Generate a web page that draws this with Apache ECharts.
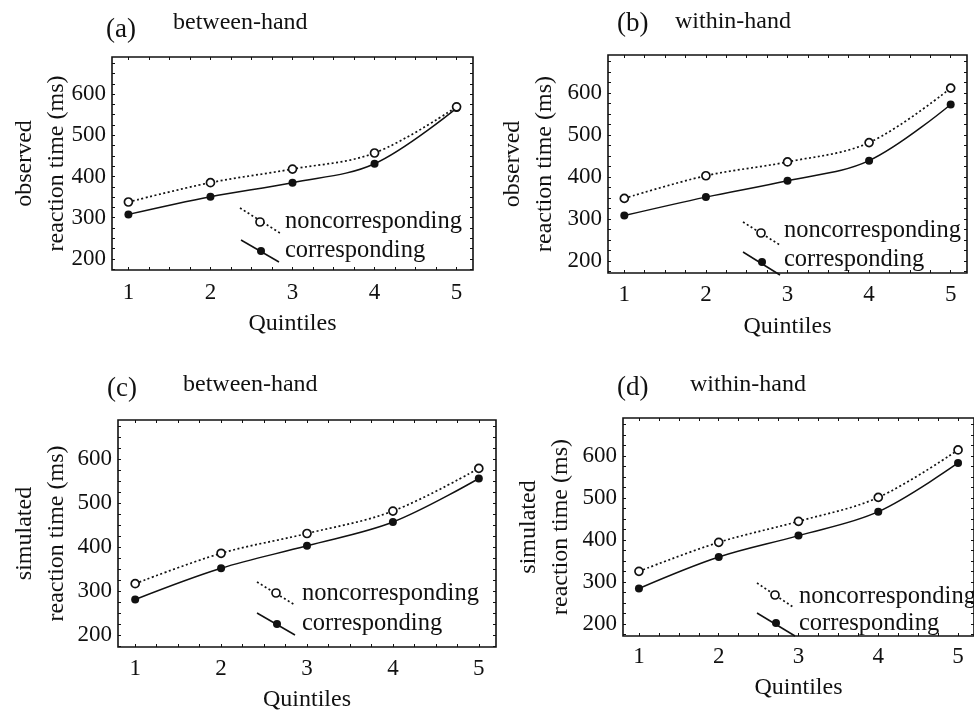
<!DOCTYPE html>
<html>
<head>
<meta charset="utf-8">
<script src="https://cdn.jsdelivr.net/npm/echarts@6/dist/echarts.min.js"></script>
<style>
html,body{margin:0;padding:0;background:#fff;}
#chart{width:974px;height:714px;}
</style>
</head>
<body>
<div id="chart"></div>
<script>
// ---- data ----
const quintiles = [1, 2, 3, 4, 5];
const xTickLabels = [1, 2, 3, 4, 5];
const yTickLabels = [200, 300, 400, 500, 600];
const seriesNames = ['noncorresponding', 'corresponding'];
const panelLetters = ['(a)', '(b)', '(c)', '(d)'];
const panelTitles = ['between-hand', 'within-hand', 'between-hand', 'within-hand'];
const yNames = ['observed\nreaction time (ms)', 'observed\nreaction time (ms)',
                'simulated\nreaction time (ms)', 'simulated\nreaction time (ms)'];
const xName = 'Quintiles';

const aNon = [338, 385, 418, 457, 569];
const aCor = [308, 351, 385, 431, 566];
const bNon = [349, 403, 436, 482, 612];
const bCor = [308, 352, 391, 439, 573];
const cNon = [317, 386, 431, 482, 579];
const cCor = [281, 352, 403, 457, 556];
const dNon = [325, 394, 444, 501, 614];
const dCor = [284, 359, 410, 467, 583];

// ---- layout ----
const FONT = '"Liberation Serif", "DejaVu Serif", serif';
const INK = '#111111';
const panels = [
  {left:112, top:57,  width:361, height:213, ymin:173, ymax:690, nameGap:39, xNameGap:42, xMargin:11, nonv:aNon, corv:aCor,
   letter:[106,30], title:[173,23],
   leg:{n1:[240,208,280,233], nc:[260,222], c1:[241,240,279,262], cc:[261,251], tx:285, ny:222, cy:251}},
  {left:608, top:55,  width:359, height:218, ymin:171, ymax:691, nameGap:47, xNameGap:42, xMargin:10, nonv:bNon, corv:bCor,
   letter:[617,24], title:[675,22],
   leg:{n1:[743,222,780,245], nc:[761,233], c1:[743,252,780,275], cc:[762,262], tx:784, ny:231, cy:260}},
  {left:118, top:420, width:378, height:227, ymin:173, ymax:689, nameGap:45, xNameGap:41, xMargin:10, nonv:cNon, corv:cCor,
   letter:[107,389], title:[183,385],
   leg:{n1:[257,582,295,605], nc:[276,593], c1:[257,613,295,635], cc:[277,624], tx:302, ny:594, cy:624}},
  {left:623, top:418, width:362, height:218, ymin:171, ymax:690, nameGap:46, xNameGap:40, xMargin:9, nonv:dNon, corv:dCor,
   letter:[617,388], title:[690,385],
   leg:{n1:[757,583,793,607], nc:[775,595], c1:[757,613,795,636], cc:[776,623], tx:799, ny:597, cy:624}}
];

function range(a, b, s) { const r = []; for (let v = a; v <= b + 1e-9; v += s) r.push(+v.toFixed(4)); return r; }

const grids = [], xAxes = [], yAxes = [], series = [], graphics = [];

panels.forEach((p, i) => {
  grids.push({left:p.left, top:p.top, width:p.width, height:p.height, show:true,
    borderColor:INK, borderWidth:1.6, backgroundColor:'transparent', containLabel:false});
  const xMinor = range(1, 5, 0.25);
  const yMinor = range(Math.ceil(p.ymin/25)*25, p.ymax, 25);
  const base = {type:'value', gridIndex:i, min:0.8, max:5.2, splitLine:{show:false}, axisLine:{show:false}};
  xAxes.push(Object.assign({}, base, {
    position:'bottom',
    name:xName, nameLocation:'middle', nameGap:p.xNameGap, nameMoveOverlap:false,
    nameTextStyle:{fontFamily:FONT, fontSize:24, color:INK},
    axisLabel:{customValues:xTickLabels, fontFamily:FONT, fontSize:23, color:INK, margin:p.xMargin},
    axisTick:{customValues:xMinor, inside:true, length:3, lineStyle:{color:INK, width:1}}
  }));
  xAxes.push(Object.assign({}, base, {
    position:'top', axisLabel:{show:false},
    axisTick:{customValues:xMinor, inside:true, length:3, lineStyle:{color:INK, width:1}}
  }));
  const ybase = {type:'value', gridIndex:i, min:p.ymin, max:p.ymax, splitLine:{show:false}, axisLine:{show:false}};
  yAxes.push(Object.assign({}, ybase, {
    position:'left',
    name:yNames[i], nameLocation:'middle', nameGap:p.nameGap, nameMoveOverlap:false,
    nameTextStyle:{fontFamily:FONT, fontSize:24, color:INK, lineHeight:32},
    axisLabel:{customValues:yTickLabels, fontFamily:FONT, fontSize:23, color:INK, margin:6},
    axisTick:{customValues:yMinor, inside:true, length:3, lineStyle:{color:INK, width:1}}
  }));
  yAxes.push(Object.assign({}, ybase, {
    position:'right', axisLabel:{show:false},
    axisTick:{customValues:yMinor, inside:true, length:3, lineStyle:{color:INK, width:1}}
  }));

  series.push({
    name:seriesNames[1], type:'line', xAxisIndex:2*i, yAxisIndex:2*i, smooth:0.35,
    data:quintiles.map((q, k) => [q, p.corv[k]]),
    symbol:'circle', symbolSize:8, z:3,
    lineStyle:{color:INK, width:1.5},
    itemStyle:{color:INK, borderColor:INK, borderWidth:0}
  });
  series.push({
    name:seriesNames[0], type:'line', xAxisIndex:2*i, yAxisIndex:2*i, smooth:0.35,
    data:quintiles.map((q, k) => [q, p.nonv[k]]),
    symbol:'circle', symbolSize:8, z:4,
    lineStyle:{color:INK, width:1.7, type:[2, 2.5]},
    itemStyle:{color:'#fff', borderColor:INK, borderWidth:1.7}
  });

  // panel titles
  graphics.push({type:'text', x:p.letter[0], y:p.letter[1], z:10,
    style:{text:panelLetters[i], fontFamily:FONT, fontSize:27, fill:INK, verticalAlign:'middle', align:'left'}});
  graphics.push({type:'text', x:p.title[0], y:p.title[1], z:10,
    style:{text:panelTitles[i], fontFamily:FONT, fontSize:24, fill:INK, verticalAlign:'middle', align:'left'}});

  // legend
  const L = p.leg;
  graphics.push({type:'line', z:10, shape:{x1:L.n1[0], y1:L.n1[1], x2:L.n1[2], y2:L.n1[3]},
    style:{stroke:INK, lineWidth:1.7, lineDash:[2, 2.5]}});
  graphics.push({type:'circle', z:11, shape:{cx:L.nc[0], cy:L.nc[1], r:4},
    style:{fill:'#fff', stroke:INK, lineWidth:1.7}});
  graphics.push({type:'line', z:10, shape:{x1:L.c1[0], y1:L.c1[1], x2:L.c1[2], y2:L.c1[3]},
    style:{stroke:INK, lineWidth:1.5}});
  graphics.push({type:'circle', z:11, shape:{cx:L.cc[0], cy:L.cc[1], r:4},
    style:{fill:INK, stroke:INK, lineWidth:0}});
  graphics.push({type:'text', x:L.tx, y:L.ny, z:10,
    style:{text:seriesNames[0], fontFamily:FONT, fontSize:24.5, fill:INK, verticalAlign:'middle', align:'left'}});
  graphics.push({type:'text', x:L.tx, y:L.cy, z:10,
    style:{text:seriesNames[1], fontFamily:FONT, fontSize:24.5, fill:INK, verticalAlign:'middle', align:'left'}});
});

const chart = echarts.init(document.getElementById('chart'), null, {renderer:'canvas'});
chart.setOption({
  animation:false,
  backgroundColor:'#fff',
  grid:grids, xAxis:xAxes, yAxis:yAxes, series:series, graphic:graphics
});
</script>
</body>
</html>
